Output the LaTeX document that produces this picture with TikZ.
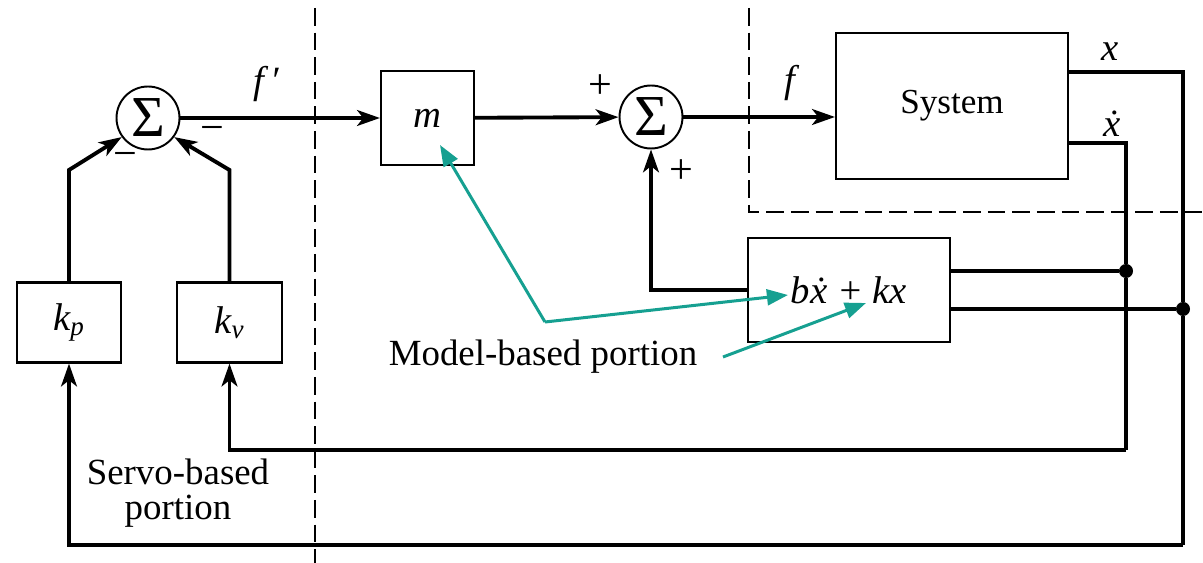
\documentclass[tikz,border=0pt]{standalone}
\usepackage{fontspec}
\setmainfont{Liberation Serif}
\usetikzlibrary{arrows.meta}

\definecolor{annot}{RGB}{22,160,145}

\begin{document}
\begin{tikzpicture}[x=0.02cm, y=-0.02cm,
    >={Stealth[length=13pt, width=9pt, inset=3.5pt]},
    block/.style={draw, line width=1.2pt, inner sep=0pt, font=\fontsize{22}{26}\selectfont\itshape},
    sumnode/.style={draw, circle, line width=1.1pt, minimum size=1.26cm, inner sep=0pt, font=\fontsize{33}{33}\selectfont},
    sig/.style={line width=2.2pt},
    divider/.style={line width=1.1pt, dash pattern=on 10pt off 4pt},
    pointer/.style={annot, line width=1.7pt, -{Triangle[length=12pt, width=9pt]}},
    lbl/.style={font=\fontsize{22}{26}\selectfont\itshape},
    sgn/.style={font=\fontsize{24}{26}\selectfont},
    note/.style={font=\fontsize{21}{24}\selectfont, align=center},
    dot/.style={circle, fill, minimum size=0.28cm, inner sep=0pt}
]
    \useasboundingbox (0,0) rectangle (1203,563);

    % region borders
    \draw[divider] (315,8) -- (315,563);
    \draw[divider] (749,8) -- (749,212) -- (1203,212);

    % summing junctions
    \node[sumnode] (sumA) at (148,118) {Σ};
    \node[sumnode] (sumB) at (651,117) {Σ};

    % blocks
    \node[block, minimum width=1.86cm, minimum height=1.88cm] (m) at (427.5,118) {m};
    \node[block, minimum width=4.64cm, minimum height=2.92cm, font=\fontsize{20}{24}\selectfont] (sys) at (952,106) {System};
    \node[block, minimum width=4.04cm, minimum height=2.08cm] (model) at (849,290) {b\.x + kx};
    \node[block, minimum width=2.08cm, minimum height=1.6cm] (kp) at (69,322.5) {k\textsubscript{p}};
    \node[block, minimum width=2.1cm, minimum height=1.6cm] (kv) at (229.5,322.5) {k\textsubscript{v}};

    % branch points
    \node[dot] (d1) at (1126,271) {};
    \node[dot] (d2) at (1183,309) {};
    \coordinate (xr) at (1183,72);
    \coordinate (xb) at (1183,545);
    \coordinate (vr) at (1126,143);
    \coordinate (vb) at (1126,450);
    \coordinate (kpup) at (69,170);
    \coordinate (kvup) at (229.5,170);

    % forward path
    \draw[sig, ->] (sumA) -- (m) node[lbl, pos=0.43, above=5pt] {f\,′};
    \draw[sig, ->] (m) -- (sumB);
    \draw[sig, ->] (sumB) -- (sumB -| sys.west) node[lbl, pos=0.7, above=5pt] {f};

    % outputs
    \draw[sig] (sys.east |- xr) -- (xr) -- (d2) -- (xb);
    \draw[sig] (sys.east |- vr) -- (vr) -- (d1) -- (vb);
    \node[lbl] (xlab) at (1110,52) {x};
    \node[lbl] (vlab) at (1112,124) {\.x};

    % model-based feedback
    \draw[sig] (model.east |- d1) -- (d1);
    \draw[sig] (model.east |- d2) -- (d2);
    \draw[sig, ->] (model.west) -- (model.west -| sumB) -- (sumB.south);

    % servo feedback
    \draw[sig, ->] (vb) -- (kv.south |- vb) -- (kv.south);
    \draw[sig, ->] (xb) -- (kp.south |- xb) -- (kp.south);
    \draw[sig, ->] (kp) -- (kpup) -- (sumA.216);
    \draw[sig, ->] (kv) -- (kvup) -- (sumA.324);

    % signs
    \node[sgn] (mA) at (125,160) {−};
    \node[sgn] (mB) at (212,134) {−};
    \node[sgn] (pA) at (600,87) {+};
    \node[sgn] (pB) at (681,172) {+};

    % annotations
    \node[note] (servo) at (178,493) {Servo-based\\[-4pt]portion};
    \node[note] (modelnote) at (543,357) {Model-based portion};
    \coordinate (kink) at (545,322);
    \coordinate (mtip) at (440,145);
    \coordinate (btip) at (788,295);
    \coordinate (nstart) at (723,357);
    \coordinate (ktip) at (866,303);
    \draw[pointer] (kink) -- (mtip);
    \draw[pointer] (kink) -- (btip);
    \draw[pointer] (nstart) -- (ktip);
\end{tikzpicture}
\end{document}
